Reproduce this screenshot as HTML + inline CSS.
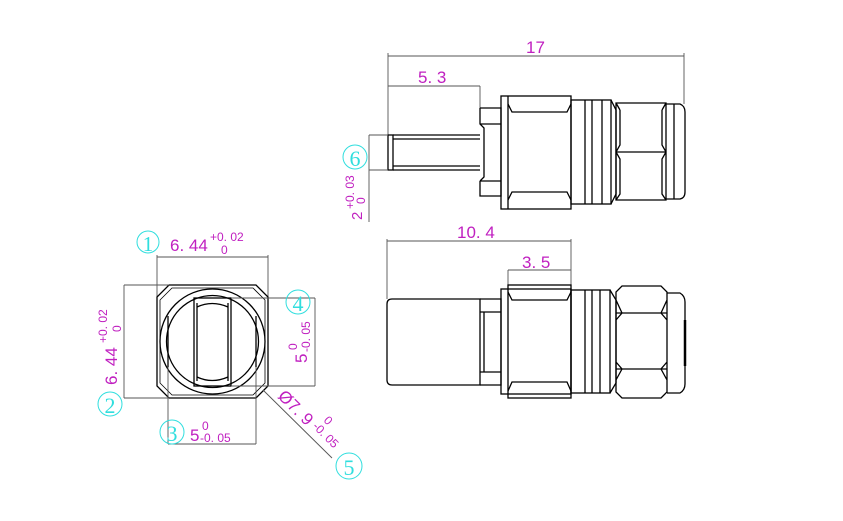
<!DOCTYPE html>
<html><head><meta charset="utf-8"><style>
html,body{margin:0;padding:0;background:#fff}
svg{display:block}
.l{stroke:#000;stroke-width:1.3;fill:none}
.d{stroke:#555;stroke-width:0.9;fill:none}
.m{fill:#c020c0;font-family:"Liberation Sans",sans-serif;font-size:17px}
.s{fill:#c020c0;font-family:"Liberation Sans",sans-serif;font-size:12px}
.c{fill:#30dede;font-family:"Liberation Serif","DejaVu Serif",serif;font-size:24px}
.cc{stroke:#30dede;stroke-width:1;fill:none}
</style></head><body>
<svg width="843" height="521" viewBox="0 0 843 521" xmlns="http://www.w3.org/2000/svg">
<!-- TOP VIEW -->
<line class="d" x1="388" y1="56" x2="684" y2="56"/>
<line class="d" x1="388" y1="53" x2="388" y2="135"/>
<line class="d" x1="684" y1="53" x2="684" y2="104"/>
<text class="m" x="526" y="53">17</text>
<line class="d" x1="388" y1="86" x2="480" y2="86"/>
<line class="d" x1="480" y1="86" x2="480" y2="108"/>
<text class="m" x="418" y="83">5. 3</text>
<rect class="l" x="388" y="135" width="5" height="35"/>
<line class="l" x1="393" y1="135" x2="480" y2="135"/>
<line class="l" x1="393" y1="170" x2="480" y2="170"/>
<line class="l" x1="393" y1="139" x2="480" y2="139"/>
<line class="l" x1="393" y1="166" x2="480" y2="166"/>
<path class="l" d="M480 108 H501 V196 H480 V181 M480 124 H501 M480 181 H501 M480 108 V124 L484 128 V177 L480 181"/>
<rect class="l" x="501" y="96" width="70" height="113"/>
<line class="l" x1="508" y1="96" x2="508" y2="209"/>
<path class="l" d="M508 104 L512 112 H567 L571 104 M508 200 L512 192 H567 L571 200"/>
<rect class="l" x="571" y="100" width="40" height="104"/>
<line class="l" x1="585" y1="100" x2="585" y2="204"/>
<line class="l" x1="592" y1="100" x2="592" y2="204"/>
<line class="l" x1="602" y1="100" x2="602" y2="204"/>
<path class="l" d="M611 100 L616 110 V194 L611 204"/>
<path class="l" d="M616 103 H666 V200 H616 Z M616 152 H666 M616 103 L620 110 M666 103 L662 110 M620 110 V145 L616 152 L620 159 V194 L616 200 M662 110 V145 L666 152 L662 159 V194 L666 200"/>
<path class="l" d="M666 104 H680 Q685 106 685 112 V192 Q685 198 680 199 H666"/>
<line class="l" x1="674" y1="104" x2="674" y2="199"/>
<line class="d" x1="369" y1="135" x2="388" y2="135"/>
<line class="d" x1="369" y1="170" x2="388" y2="170"/>
<line class="d" x1="369" y1="135" x2="369" y2="222"/>
<circle class="cc" cx="355" cy="157" r="12"/>
<text class="c" x="355" y="166" text-anchor="middle" style="font-size:22px">6</text>
<text class="m" transform="translate(362,220) rotate(-90)" style="font-size:15px">2</text>
<text class="s" transform="translate(354,209) rotate(-90)">+0. 03</text>
<text class="s" transform="translate(365,204) rotate(-90)">0</text>

<!-- BOTTOM VIEW -->
<line class="d" x1="387" y1="241" x2="571" y2="241"/>
<line class="d" x1="387" y1="239" x2="387" y2="299"/>
<line class="d" x1="571" y1="239" x2="571" y2="285"/>
<text class="m" x="457" y="238">10. 4</text>
<line class="d" x1="508" y1="270" x2="571" y2="270"/>
<line class="d" x1="508" y1="270" x2="508" y2="285"/>
<text class="m" x="522" y="268">3. 5</text>
<path class="l" d="M392 299 H480 V385 H392 Q387 385 387 380 V304 Q387 299 392 299 Z"/>
<path class="l" d="M480 299 H501 V385 H480 M480 312 H501 M480 372 H501 M484 312 V372"/>
<rect class="l" x="501" y="289" width="70" height="105"/>
<rect class="l" x="508" y="285" width="63" height="113"/>
<path class="l" d="M508 292 L512 300 H567 L571 292 M508 391 L512 382 H567 L571 391"/>
<rect class="l" x="571" y="290" width="39" height="103"/>
<line class="l" x1="585" y1="290" x2="585" y2="393"/>
<line class="l" x1="592" y1="290" x2="592" y2="393"/>
<line class="l" x1="600" y1="290" x2="600" y2="393"/>
<path class="l" d="M610 290 L616 300 V383 L610 393"/>
<path class="l" d="M622 286 H661 L667 292 V392 L661 398 H622 L616 392 V292 Z M616 313 H667 M616 369 H667 M616 300 L622 313 L616 320 M667 300 L661 313 L667 320 M616 362 L622 369 L616 380 M667 362 L661 369 L667 380"/>
<path class="l" d="M667 293 H680 Q685 296 685 302 V384 Q685 390 680 393 H667"/>
<line class="l" x1="685" y1="320" x2="685" y2="366" style="stroke-width:2.5"/>

<!-- FRONT VIEW -->
<line class="d" x1="157" y1="257" x2="268" y2="257"/>
<line class="d" x1="157" y1="255" x2="157" y2="297"/>
<line class="d" x1="268" y1="255" x2="268" y2="297"/>
<circle class="cc" cx="148" cy="242" r="11"/>
<text class="c" x="148" y="251" text-anchor="middle" style="font-size:21px">1</text>
<text class="m" x="170" y="251">6. 44</text>
<text class="s" x="210" y="241">+0. 02</text>
<text class="s" x="221" y="254">0</text>
<path class="l" d="M169 285 H256 L268 297 V386 L256 398 H169 L157 386 V297 Z"/>
<path class="l" d="M172 288 H253 L265 300 V383 L253 395 H172 L160 383 V300 Z" style="stroke-width:0.8"/>
<circle class="l" cx="212.5" cy="341.5" r="52.5"/>
<circle class="l" cx="212.5" cy="341.5" r="46"/>
<rect class="l" x="194" y="298" width="37" height="88"/>
<path class="l" d="M197 307 Q212 300 228 307 M197 377 Q212 384 228 377"/>
<line class="l" x1="197" y1="303" x2="197" y2="381"/>
<line class="l" x1="228" y1="303" x2="228" y2="381"/>
<line class="l" x1="168" y1="316" x2="168" y2="367"/>
<line class="l" x1="256" y1="316" x2="256" y2="367"/>
<line class="d" x1="231" y1="298" x2="315" y2="298"/>
<line class="d" x1="231" y1="386" x2="315" y2="386"/>
<line class="d" x1="315" y1="298" x2="315" y2="386"/>
<line class="d" x1="168" y1="367" x2="168" y2="444"/>
<line class="d" x1="256" y1="367" x2="256" y2="444"/>
<line class="d" x1="168" y1="444" x2="256" y2="444"/>
<line class="d" x1="124" y1="285" x2="169" y2="285"/>
<line class="d" x1="124" y1="398" x2="169" y2="398"/>
<line class="d" x1="124" y1="285" x2="124" y2="398"/>
<line class="d" x1="263" y1="390" x2="332" y2="458"/>
<circle class="cc" cx="298" cy="302" r="12"/>
<text class="c" x="298" y="311" text-anchor="middle" style="font-size:22px">4</text>
<circle class="cc" cx="110" cy="404" r="12"/>
<text class="c" x="110" y="413" text-anchor="middle" style="font-size:22px">2</text>
<circle class="cc" cx="172" cy="432" r="12"/>
<text class="c" x="172" y="441" text-anchor="middle" style="font-size:22px">3</text>
<circle class="cc" cx="349" cy="466" r="13"/>
<text class="c" x="349" y="475" text-anchor="middle" style="font-size:22px">5</text>
<text class="m" transform="translate(117,385) rotate(-90)">6. 44</text>
<text class="s" transform="translate(107,343) rotate(-90)">+0. 02</text>
<text class="s" transform="translate(121,332) rotate(-90)">0</text>
<text class="m" transform="translate(307,363) rotate(-90)">5</text>
<text class="s" transform="translate(297,350) rotate(-90)">0</text>
<text class="s" transform="translate(310,352) rotate(-90)">-0. 05</text>
<text class="m" x="190" y="441">5</text>
<text class="s" x="202" y="430">0</text>
<text class="s" x="200" y="442">-0. 05</text>
<text class="m" transform="translate(277,397) rotate(45)">Ø7. 9</text>
<text class="s" transform="translate(323,421) rotate(45)">0</text>
<text class="s" transform="translate(312,427) rotate(45)">-0. 05</text>
</svg>
</body></html>
